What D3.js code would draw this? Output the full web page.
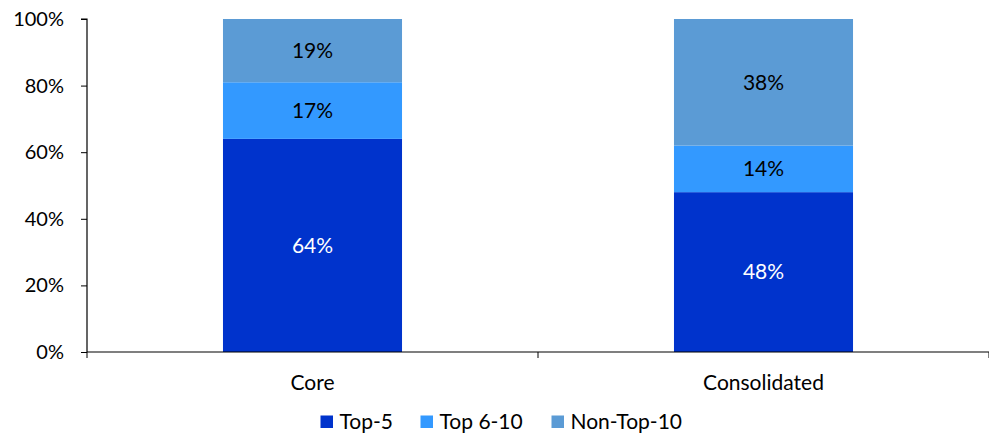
<!DOCTYPE html>
<html><head><meta charset="utf-8">
<script src="https://cdn.jsdelivr.net/npm/d3@7"></script>
<style>body{margin:0;background:#fff}svg{display:block}text{font-family:Lato,"Open Sans",sans-serif}</style>
</head><body><svg id="c" width="989" height="436"></svg>
<script>
const categories = ["Core", "Consolidated"];
const seriesNames = ["Top-5", "Top 6-10", "Non-Top-10"];
const top5 = [64, 48];
const top6to10 = [17, 14];
const nonTop10 = [19, 38];
const yTicks = [0, 20, 40, 60, 80, 100];
const colors = ["#0033CC", "#3399FF", "#5B9BD5"];
const labelColors = ["#ffffff", "#000000", "#000000"];

const FS = 21;
const svg = d3.select("#c");
const x0 = 87, x1 = 989, yTop = 19, yBot = 352;
const x = d3.scaleBand().domain(categories).range([x0, x1]).paddingInner(0).paddingOuter(0);
const y = d3.scaleLinear().domain([0, 100]).range([yBot, yTop]);
const barW = x.bandwidth() * 0.397;

const rows = categories.map((c, i) => ({cat: c, "Top-5": top5[i], "Top 6-10": top6to10[i], "Non-Top-10": nonTop10[i]}));
const stacked = d3.stack().keys(seriesNames)(rows);

stacked.forEach((s, si) => {
  const g = svg.append("g");
  g.selectAll("rect").data(s).enter().append("rect")
    .attr("x", d => x(d.data.cat) + x.bandwidth() / 2 - barW / 2)
    .attr("width", barW)
    .attr("y", d => y(d[1]))
    .attr("height", d => y(d[0]) - y(d[1]))
    .attr("fill", colors[si]);
  g.selectAll("text").data(s).enter().append("text")
    .attr("x", d => x(d.data.cat) + x.bandwidth() / 2)
    .attr("y", d => (y(d[0]) + y(d[1])) / 2)
    .attr("dy", "0.35em")
    .attr("text-anchor", "middle")
    .attr("font-size", FS)
    .attr("fill", labelColors[si])
    .text(d => (d[1] - d[0]) + "%");
});

// y axis
const yAxis = d3.axisLeft(y).tickValues(yTicks).tickFormat(d => d + "%").tickSize(6).tickPadding(17);
const ya = svg.append("g").attr("transform", `translate(${x0},0)`).call(yAxis);
ya.select(".domain").attr("stroke", "#000").attr("stroke-width", 1.2).attr("d", `M-6,${yTop}H0V${yBot}`);
ya.selectAll(".tick line").attr("stroke", "#000");
ya.selectAll("text").attr("font-size", 20).attr("fill", "#000").style("font-family", "Lato,sans-serif");

// x axis
const xa = svg.append("g").attr("transform", `translate(0,${yBot})`);
xa.append("line").attr("x1", x0).attr("x2", x1).attr("stroke", "#000").attr("stroke-width", 1.2);
const bounds = [x0].concat(categories.map(c => x(c) + x.bandwidth()));
xa.selectAll("line.t").data(bounds).enter().append("line").attr("class", "t")
  .attr("x1", d => d).attr("x2", d => d).attr("y1", 0).attr("y2", 6).attr("stroke", "#000");
xa.selectAll("text").data(categories).enter().append("text")
  .attr("x", d => x(d) + x.bandwidth() / 2).attr("y", 31).attr("dy", "0.35em")
  .attr("text-anchor", "middle").attr("font-size", FS).attr("fill", "#000").text(d => d);

// legend
const legX = [320.5, 420.5, 551.5];
const lg = svg.append("g");
seriesNames.forEach((n, i) => {
  lg.append("rect").attr("x", legX[i]).attr("y", 415.5).attr("width", 12.5).attr("height", 12.5).attr("fill", colors[i]);
  lg.append("text").attr("x", legX[i] + 19).attr("y", 421.7).attr("dy", "0.35em").attr("font-size", FS).attr("fill", "#000").text(n);
});
</script></body></html>
